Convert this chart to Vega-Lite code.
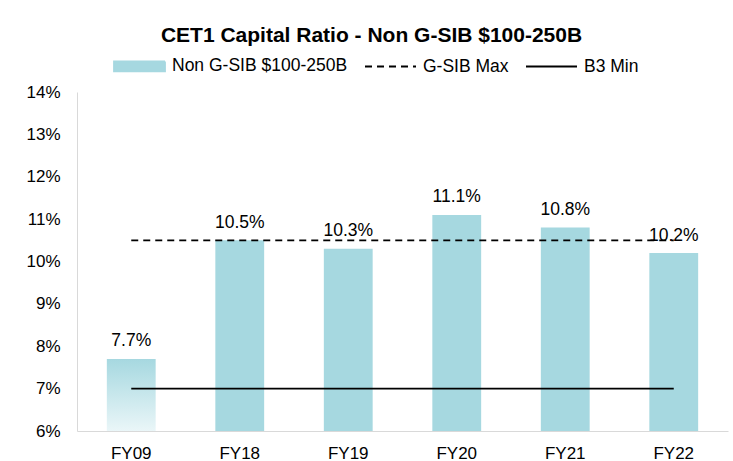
{
  "$schema": "https://vega.github.io/schema/vega-lite/v6.json",
  "width": 651,
  "height": 339,
  "autosize": {"type": "none"},
  "padding": {"left": 77, "top": 92, "right": 5, "bottom": 30},
  "background": "white",
  "title": {
    "text": "CET1 Capital Ratio - Non G-SIB $100-250B",
    "anchor": "middle",
    "frame": "group",
    "dx": -31,
    "offset": 0,
    "dy": 23,
    "baseline": "alphabetic",
    "font": "Liberation Sans",
    "fontSize": 21,
    "fontWeight": "bold",
    "color": "#000000"
  },
  "data": {
    "values": [
      {"year": "FY09", "value": 0.077, "gsib_max": 0.105, "b3_min": 0.07},
      {"year": "FY18", "value": 0.105, "gsib_max": 0.105, "b3_min": 0.07},
      {"year": "FY19", "value": 0.103, "gsib_max": 0.105, "b3_min": 0.07},
      {"year": "FY20", "value": 0.111, "gsib_max": 0.105, "b3_min": 0.07},
      {"year": "FY21", "value": 0.108, "gsib_max": 0.105, "b3_min": 0.07},
      {"year": "FY22", "value": 0.102, "gsib_max": 0.105, "b3_min": 0.07}
    ]
  },
  "encoding": {
    "x": {
      "field": "year",
      "type": "nominal",
      "sort": null,
      "title": null,
      "scale": {"domain": ["FY09", "FY18", "FY19", "FY20", "FY21", "FY22"], "paddingInner": 0.55, "paddingOuter": 0.275}
    }
  },
  "layer": [
    {
      "transform": [{"filter": "datum.year !== 'FY09'"}],
      "mark": {"type": "bar"},
      "encoding": {
        "y": {
          "field": "value",
          "type": "quantitative",
          "title": null,
          "scale": {"domain": [0.06, 0.14], "zero": false, "nice": false},
          "axis": {"values": [0.06, 0.07, 0.08, 0.09, 0.1, 0.11, 0.12, 0.13, 0.14], "format": ".0%"}
        },
        "y2": {"datum": 0.06},
        "color": {
          "datum": "Non G-SIB $100-250B",
          "scale": {
            "domain": ["Non G-SIB $100-250B", "G-SIB Max", "B3 Min"],
            "range": ["#a6d8e0", "#000000", "#000000"]
          },
          "legend": {
            "orient": "none",
            "legendX": 36,
            "legendY": -52.5,
            "direction": "horizontal",
            "title": null,
            "padding": 0,
            "symbolSize": 2601,
            "labelFont": "Liberation Sans",
            "labelFontSize": 17.5,
            "labelColor": "#000000",
            "labelOffset": 6,
            "labelLimit": 400,
            "columnPadding": 13,
            "encode": {
              "symbols": {
                "update": {
                  "shape": {"signal": "datum.value === 'Non G-SIB $100-250B' ? 'M-1,-0.196H1V0.196H-1Z' : 'stroke'"},
                  "fill": {"signal": "datum.value === 'Non G-SIB $100-250B' ? '#a6d8e0' : 'transparent'"},
                  "stroke": {"signal": "datum.value === 'Non G-SIB $100-250B' ? 'transparent' : '#000000'"},
                  "strokeDash": {"signal": "datum.value === 'G-SIB Max' ? [7, 5] : [1, 0]"},
                  "strokeWidth": {"value": 1.8},
                  "opacity": {"value": 1},
                  "fillOpacity": {"value": 1},
                  "strokeOpacity": {"value": 1}
                }
              }
            }
          }
        }
      }
    },
    {
      "transform": [{"filter": "datum.year === 'FY09'"}],
      "mark": {
        "type": "bar",
        "fill": {
          "gradient": "linear",
          "x1": 0, "y1": 0, "x2": 0, "y2": 1,
          "stops": [
            {"offset": 0, "color": "#a6d8e0"},
            {"offset": 1, "color": "#eaf6f8"}
          ]
        }
      },
      "encoding": {
        "y": {"field": "value", "type": "quantitative", "title": null},
        "y2": {"datum": 0.06}
      }
    },
    {
      "mark": {"type": "line", "strokeDash": [7, 5], "strokeWidth": 1.8},
      "encoding": {
        "y": {"field": "gsib_max", "type": "quantitative", "title": null},
        "color": {"datum": "G-SIB Max"}
      }
    },
    {
      "mark": {"type": "line", "strokeWidth": 1.8},
      "encoding": {
        "y": {"field": "b3_min", "type": "quantitative", "title": null},
        "color": {"datum": "B3 Min"}
      }
    },
    {
      "mark": {"type": "text", "baseline": "alphabetic", "dy": -12.5, "font": "Liberation Sans", "fontSize": 17.5, "color": "#000000"},
      "encoding": {
        "y": {"field": "value", "type": "quantitative", "title": null},
        "text": {"field": "value", "type": "quantitative", "format": ".1%"}
      }
    }
  ],
  "config": {
    "view": {"stroke": null},
    "font": "Liberation Sans",
    "axis": {
      "grid": false,
      "ticks": false,
      "tickSize": 0,
      "domainColor": "#d9d9d9",
      "domainWidth": 1,
      "labelFont": "Liberation Sans",
      "labelFontSize": 17,
      "labelColor": "#000000",
      "title": null
    },
    "axisX": {"labelAngle": 0, "labelPadding": 27, "labelBaseline": "alphabetic"},
    "axisY": {"labelPadding": 17}
  }
}
